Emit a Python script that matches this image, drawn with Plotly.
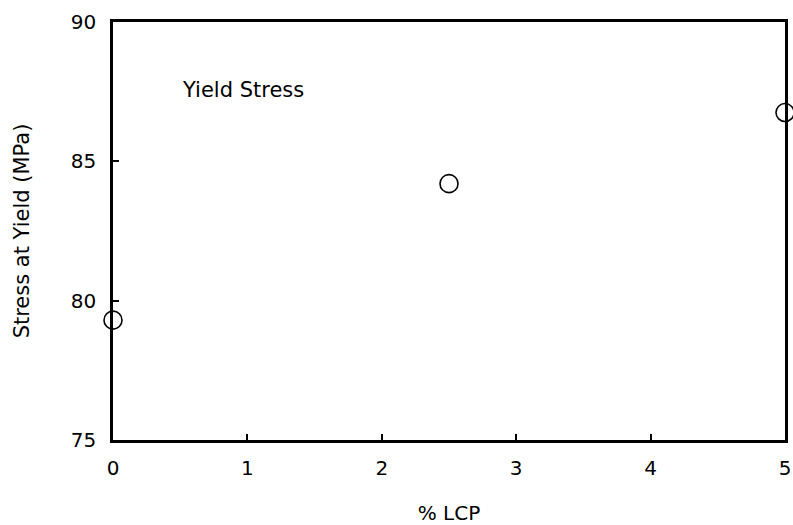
import plotly.graph_objects as go

lcp = [0, 2.5, 5]
yield_stress = [79.3, 84.2, 86.75]
x_ticks = [0, 1, 2, 3, 4, 5]
y_ticks = [75, 80, 85, 90]

FONT = "DejaVu Sans, Liberation Sans, Arial"

fig = go.Figure()
fig.add_trace(go.Scatter(
    x=lcp, y=yield_stress, mode="markers",
    marker=dict(symbol="circle-open", size=18, color="black", line=dict(width=1.6)),
    cliponaxis=False, showlegend=False))

fig.add_annotation(x=0.5, y=87.55, xref="x", yref="y", text="Yield Stress",
                   showarrow=False, xanchor="left", yanchor="middle",
                   font=dict(family=FONT, size=21, color="black"))

axis_common = dict(showgrid=False, zeroline=False, showline=True, linecolor="black",
                   linewidth=2.5, mirror=True, ticks="inside", ticklen=6, tickwidth=1.5,
                   tickcolor="black", automargin=False,
                   tickfont=dict(family=FONT, size=20, color="black"))

fig.update_xaxes(range=[0, 5], tickvals=x_ticks, ticktext=[str(v) for v in x_ticks],
                 ticklabelstandoff=8,
                 title=dict(text="% LCP", standoff=30,
                            font=dict(family=FONT, size=20, color="black")),
                 **axis_common)
fig.update_yaxes(range=[75, 90], tickvals=y_ticks, ticktext=[str(v) for v in y_ticks],
                 ticklabelstandoff=10,
                 title=dict(text="Stress at Yield (MPa)", standoff=36,
                            font=dict(family=FONT, size=21, color="black")),
                 **axis_common)

fig.update_layout(width=793, height=525, plot_bgcolor="white", paper_bgcolor="white",
                  margin=dict(l=113, r=8, t=22, b=85))

fig.write_html("out.html")
